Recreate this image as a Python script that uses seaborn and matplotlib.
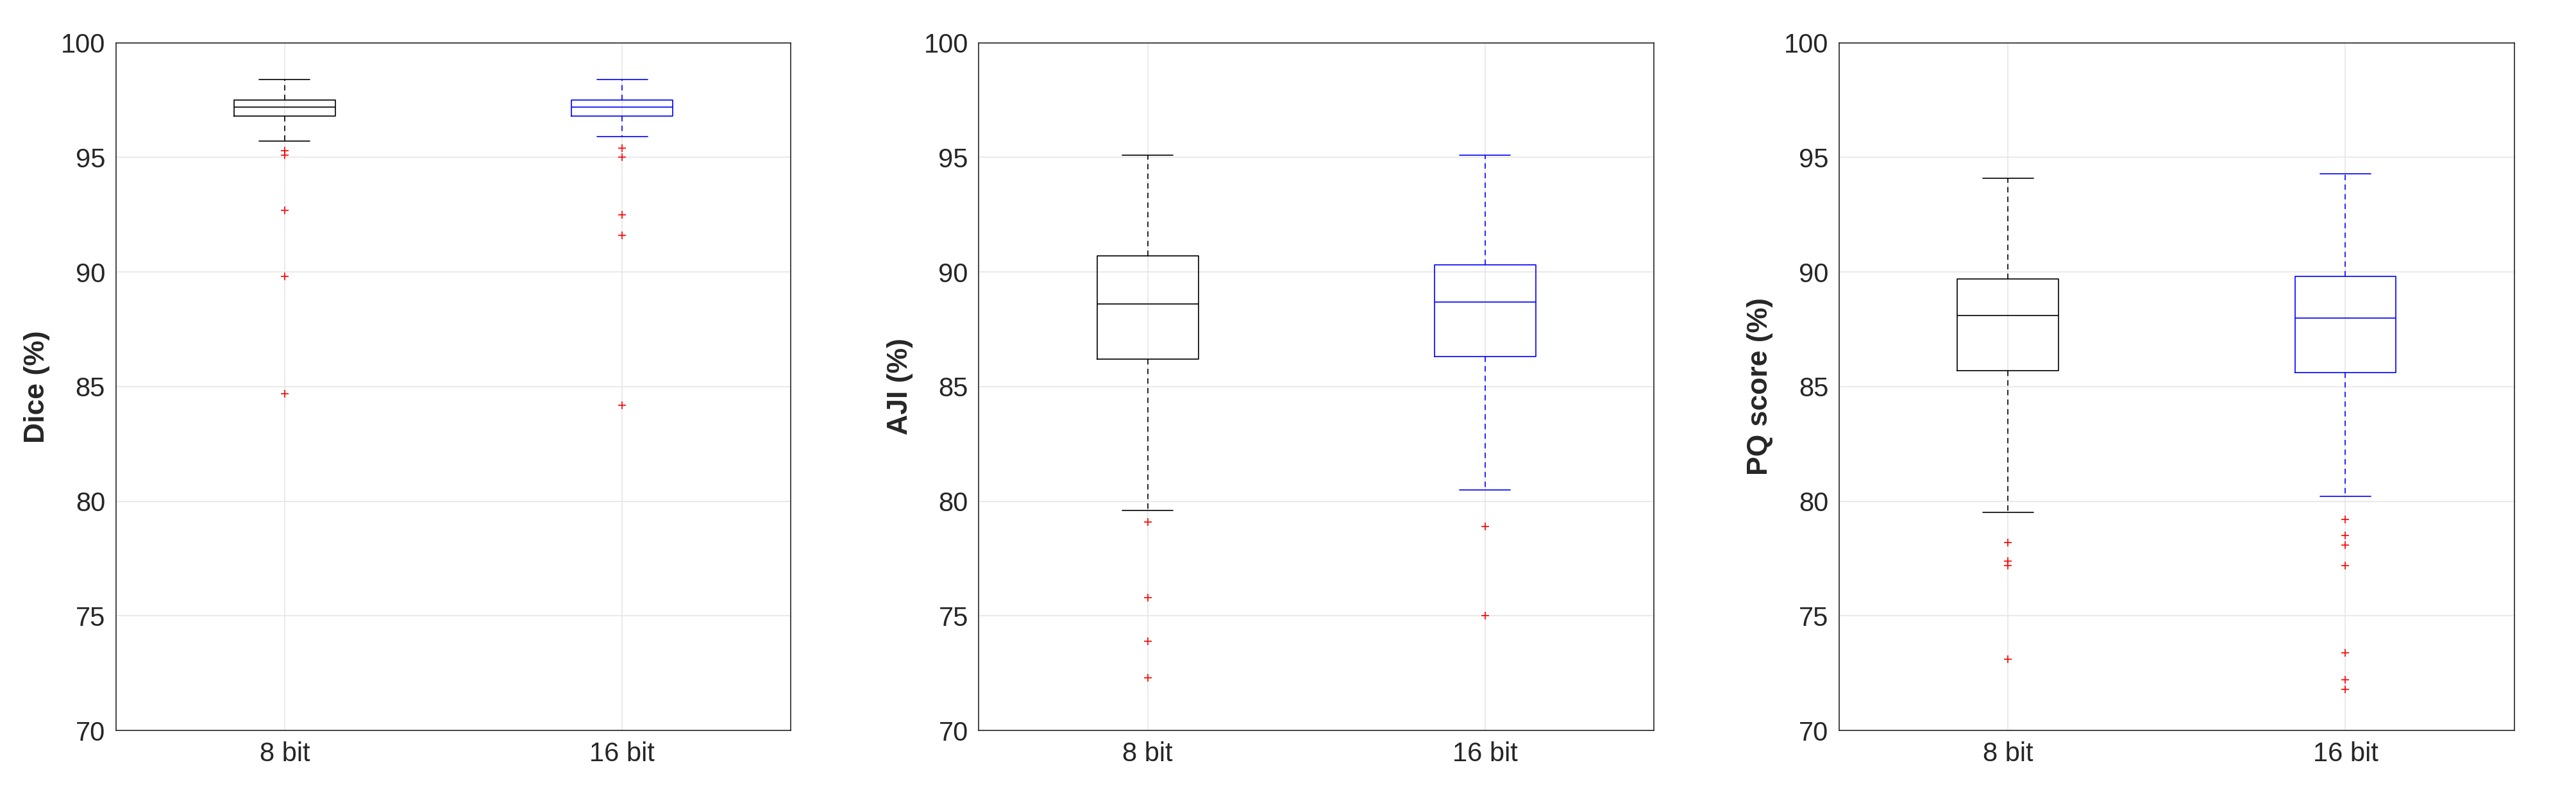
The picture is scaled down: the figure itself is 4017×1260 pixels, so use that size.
import matplotlib
matplotlib.use("Agg")
import matplotlib.pyplot as plt
import seaborn as sns

sns.set_style("white")
plt.rcParams['font.family'] = ['Liberation Sans', 'DejaVu Sans']

groups = ["8 bit", "16 bit"]
metrics = ["Dice (%)", "AJI (%)", "PQ score (%)"]
# per metric: [8 bit, 16 bit] stats: (whislo, q1, med, q3, whishi)
stats = {
    "Dice (%)": [(95.7, 96.8, 97.2, 97.5, 98.4), (95.9, 96.8, 97.2, 97.5, 98.4)],
    "AJI (%)": [(79.6, 86.2, 88.6, 90.7, 95.1), (80.5, 86.3, 88.7, 90.3, 95.1)],
    "PQ score (%)": [(79.5, 85.7, 88.1, 89.7, 94.1), (80.2, 85.6, 88.0, 89.8, 94.3)],
}
outliers = {
    "Dice (%)": [[95.3, 95.1, 92.7, 89.8, 84.7], [95.4, 95.0, 92.5, 91.6, 84.2]],
    "AJI (%)": [[79.1, 75.8, 73.9, 72.3], [78.9, 75.0]],
    "PQ score (%)": [[78.2, 77.4, 77.2, 73.1], [79.2, 78.5, 78.1, 77.2, 73.4, 72.2, 71.8]],
}
colors = ["black", "blue"]

fig = plt.figure(figsize=(40.17, 12.6), dpi=100)
lefts = [0.045, 0.380, 0.714]
for left, m in zip(lefts, metrics):
    ax = fig.add_axes([left, 0.096, 0.262, 0.851])
    for i, (s, fl, c) in enumerate(zip(stats[m], outliers[m], colors)):
        d = dict(whislo=s[0], q1=s[1], med=s[2], q3=s[3], whishi=s[4], fliers=fl, label=groups[i])
        ax.bxp([d], positions=[i + 1], widths=0.3, showfliers=True,
               boxprops=dict(color=c, lw=1.2),
               medianprops=dict(color=c, lw=1.2),
               whiskerprops=dict(color=c, lw=1.2, ls=(0, (5, 4))),
               capprops=dict(color=c, lw=1.2),
               flierprops=dict(marker='+', markeredgecolor='red', markersize=9, markeredgewidth=1.2, ls='none'))
    ax.set_xlim(0.5, 2.5)
    ax.set_ylim(70, 100)
    ax.set_xticks([1, 2])
    ax.set_xticklabels(groups)
    ax.set_yticks(range(70, 101, 5))
    ax.grid(True, color='#e6e6e6', lw=1.2)
    ax.set_axisbelow(True)
    ax.tick_params(labelsize=30, length=0, pad=12)
    ax.set_ylabel(m, fontsize=32, fontweight='bold', labelpad=12)
    for sp in ax.spines.values():
        sp.set_color('#262626'); sp.set_linewidth(1.2)

fig.savefig("out.png", dpi=100)
